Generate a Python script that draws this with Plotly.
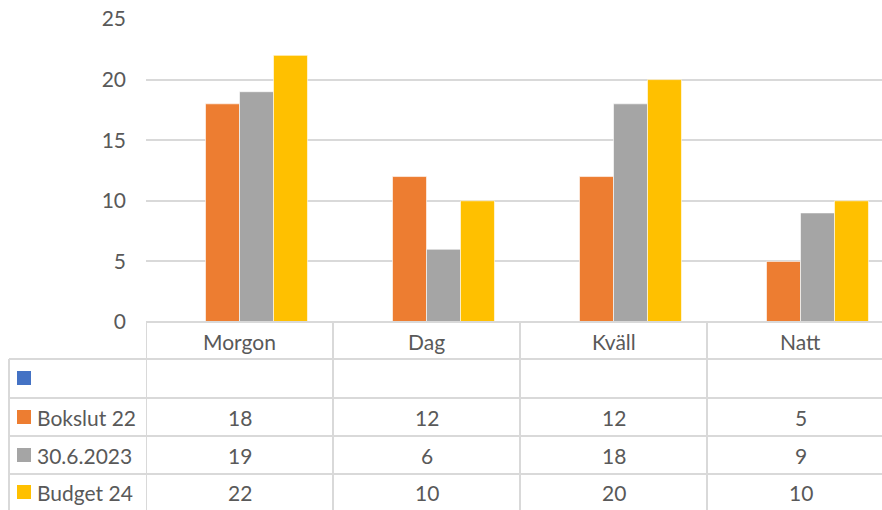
import plotly.graph_objects as go

categories = ["Morgon", "Dag", "Kväll", "Natt"]
series_names = ["", "Bokslut 22", "30.6.2023", "Budget 24"]
series_values = [
    [None, None, None, None],
    [18, 12, 12, 5],
    [19, 6, 18, 9],
    [22, 10, 20, 10],
]
colors = ["#4472C4", "#ED7D31", "#A5A5A5", "#FFC000"]
y_ticks = [0, 5, 10, 15, 20, 25]

W, H = 882, 510
L, T, B_PX = 146, 19, 322
PW = 894 - L  # full plot width in px (extends slightly past window)
VIS_W = W - L
PH = B_PX - T
FONT = "Lato, Calibri, sans-serif"
FS = 21
TXT = "#595959"
GRID = "#D9D9D9"

def py(px):
    return (B_PX - px) / PH

def pxx(px):
    return (px - L) / VIS_W

fig = go.Figure()
for name, vals, col in zip(series_names, series_values, colors):
    fig.add_trace(go.Bar(x=categories, y=vals, name=name, marker_color=col,
                         marker_line_width=0.6, marker_line_color="white",
                         hoverinfo="skip"))

n = len(categories)
x_right = -0.5 + n * VIS_W / PW

shapes = []
shapes.append(dict(type="line", xref="paper", yref="paper", x0=0, x1=1,
                   y0=py(322), y1=py(322), line=dict(color=GRID, width=2)))
for yy in [359, 398, 436, 474]:
    shapes.append(dict(type="line", xref="paper", yref="paper", x0=pxx(9), x1=1,
                       y0=py(yy), y1=py(yy), line=dict(color=GRID, width=2)))
shapes.append(dict(type="line", xref="paper", yref="paper", x0=pxx(9), x1=pxx(9),
                   y0=py(359), y1=py(512), line=dict(color=GRID, width=2)))
for i in range(n + 1):
    shapes.append(dict(type="line", xref="x", yref="paper", x0=i - 0.5, x1=i - 0.5,
                       y0=py(322), y1=py(512), line=dict(color=GRID, width=2)))

row_centers = [378, 417, 455, 492]
annotations = []
for c in categories:
    annotations.append(dict(x=c, y=py(341), xref="x", yref="paper", text=c,
                            showarrow=False, xanchor="center", yanchor="middle",
                            font=dict(family=FONT, size=FS, color=TXT)))
for r, (name, vals, col) in enumerate(zip(series_names, series_values, colors)):
    yc = row_centers[r]
    shapes.append(dict(type="rect", xref="paper", yref="paper",
                       x0=pxx(17), x1=pxx(31), y0=py(yc - 7), y1=py(yc + 7),
                       fillcolor=col, line=dict(width=0)))
    if name:
        annotations.append(dict(x=pxx(35), y=py(yc), xref="paper", yref="paper",
                                text=name, showarrow=False, xanchor="left",
                                yanchor="middle",
                                font=dict(family=FONT, size=FS, color=TXT)))
    for c, v in zip(categories, vals):
        if v is not None:
            annotations.append(dict(x=c, y=py(yc), xref="x", yref="paper", text=str(v),
                                    showarrow=False, xanchor="center", yanchor="middle",
                                    font=dict(family=FONT, size=FS, color=TXT)))

fig.update_layout(
    width=W, height=H,
    margin=dict(l=L, r=0, t=T, b=H - B_PX, pad=0),
    paper_bgcolor="white", plot_bgcolor="white",
    barmode="group", bargap=0.273, bargroupgap=0,
    showlegend=False,
    xaxis=dict(range=[-0.5, x_right], showticklabels=False, showgrid=False,
               zeroline=False, showline=False, fixedrange=True),
    yaxis=dict(range=[0, 25], tickvals=y_ticks, showgrid=True, gridcolor=GRID,
               gridwidth=2, zeroline=False, showline=False,
               tickfont=dict(family=FONT, size=FS, color=TXT),
               ticks="", ticklabelstandoff=19, fixedrange=True),
    shapes=shapes, annotations=annotations,
)
fig.write_html("out.html", config={"displayModeBar": False},
               post_script="document.body.style.margin='0';document.body.style.overflow='hidden';")
